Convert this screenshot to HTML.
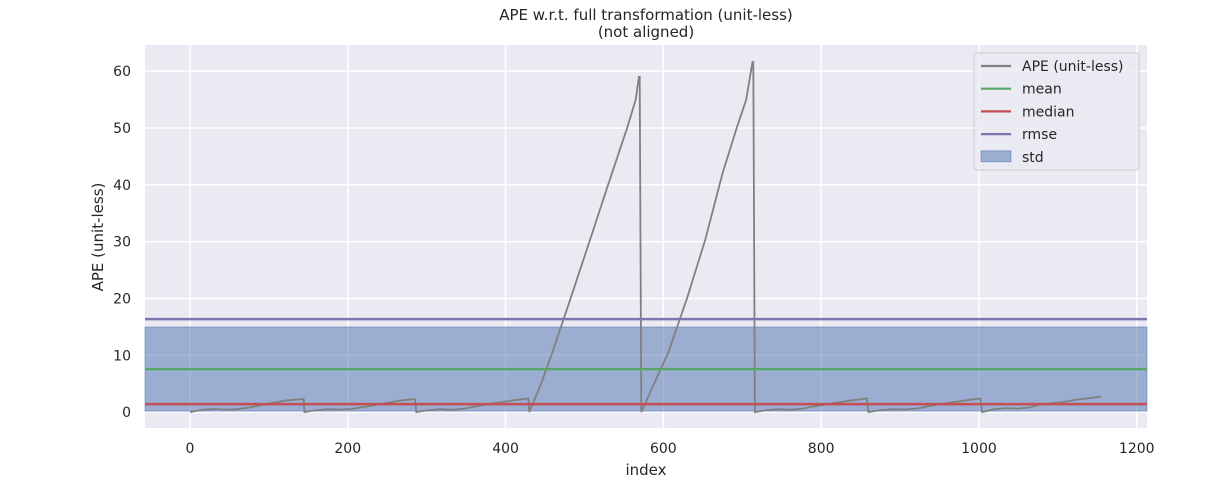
<!DOCTYPE html>
<html><head><meta charset="utf-8"><style>
body{margin:0;background:#fff;font-family:"Liberation Sans","DejaVu Sans",sans-serif;}
svg text{font-family:"DejaVu Sans","Liberation Sans",sans-serif;fill:#262626;}
</style></head><body>
<svg id="chart" width="1213" height="483" xmlns="http://www.w3.org/2000/svg"></svg>
<script>
const xTicks=[0,200,400,600,800,1000,1200];
const yTicks=[0,10,20,30,40,50,60];
const seriesX=[0,15,30,45,60,75,100,120,143,144,145,160,175,190,205,220,245,265,284,285,287,302,317,332,347,362,387,407,428,429,430,445,459,480,507,530,554,565,569,570,572,585,606,630,653,675,693,705,713,714,716,731,746,761,776,791,816,836,857,858,860,875,890,905,920,935,960,980,1001,1002,1004,1019,1034,1049,1064,1079,1104,1124,1155];
const seriesY=[0,0.4,0.55,0.45,0.5,0.8,1.5,2.0,2.3,2.3,0,0.35,0.5,0.45,0.55,0.9,1.5,2.0,2.3,2.3,0,0.35,0.5,0.4,0.6,1.0,1.6,2.0,2.4,2.4,0,5,10.4,19,30.3,40,50,55,59,59,0,4,10.4,20,30.3,42,50,55,61.6,61.6,0,0.35,0.5,0.4,0.6,1.0,1.6,2.0,2.4,2.4,0,0.35,0.5,0.45,0.6,1.0,1.6,2.0,2.4,2.4,0,0.5,0.7,0.6,0.8,1.4,1.7,2.2,2.7];
const stats=[7.57,1.41,16.36];
const stdVal=7.4;
const legendLabels=["APE (unit-less)","mean","median","rmse","std"];

const NS="http://www.w3.org/2000/svg";
const svg=document.getElementById('chart');
const L=145,R=1147,T=45,B=428;
const xMin=-57,xMax=1213,yMin=-2.8,yMax=64.6;
const X=v=>L+(v-xMin)/(xMax-xMin)*(R-L);
const Y=v=>B-(v-yMin)/(yMax-yMin)*(B-T);
function mk(tag,attrs,parent){const e=document.createElementNS(NS,tag);for(const k in attrs)e.setAttribute(k,attrs[k]);(parent||svg).appendChild(e);return e;}
let bg=mk('rect',{x:L,y:T,width:R-L,height:B-T,fill:'#eaeaf2'});


xTicks.forEach(t=>{
 let g=mk('line',{x1:X(t),x2:X(t),y1:T,y2:B,stroke:'#fff','stroke-width':1.5});
 
 
 let tx=mk('text',{x:X(t),y:B+25,'text-anchor':'middle','font-size':14});tx.textContent=t;
 
 
});
yTicks.forEach(t=>{
 let g=mk('line',{x1:L,x2:R,y1:Y(t),y2:Y(t),stroke:'#fff','stroke-width':1.5});
 
 
 let tx=mk('text',{x:L-14,y:Y(t)+5,'text-anchor':'end','font-size':14});tx.textContent=t;
 
 
});
let band=mk('rect',{x:L,y:Y(stats[0]+stdVal),width:R-L,height:Y(stats[0]-stdVal)-Y(stats[0]+stdVal),fill:'#4c72b0','fill-opacity':0.5,stroke:'#4c72b0','stroke-opacity':0.5});


let d=seriesX.map((x,i)=>(i?'L':'M')+X(x).toFixed(1)+','+Y(seriesY[i]).toFixed(1)).join(' ');
let ln=mk('path',{d:d,fill:'none',stroke:'#808080','stroke-width':1.8});


const cols=['#55a868','#c44e52','#8172b2'];
const names=['mean-line','median-line','rmse-line'];
stats.forEach((v,i)=>{
 let s=mk('line',{x1:L,x2:R,y1:Y(v),y2:Y(v),stroke:cols[i],'stroke-width':2.5});
 
 
});
// legend
let lg=mk('g',{});


mk('rect',{x:974,y:53,width:165,height:117,rx:3,fill:'#eaeaf2','fill-opacity':0.8,stroke:'#cccccc'},lg);
const lcols=['#808080','#55a868','#c44e52','#8172b2'];
legendLabels.forEach((lab,i)=>{
 const yy=66+i*22.7;
 if(i<4)mk('line',{x1:981,x2:1011,y1:yy,y2:yy,stroke:lcols[i],'stroke-width':2.2},lg);
 else mk('rect',{x:981,y:yy-6,width:30,height:11,fill:'#4c72b0','fill-opacity':0.5,stroke:'#4c72b0','stroke-opacity':0.5},lg);
 let t=mk('text',{x:1022,y:yy+5,'font-size':14},lg);t.textContent=lab;
 
 
});
let t1=mk('text',{x:646,y:20,'text-anchor':'middle','font-size':15});t1.textContent='APE w.r.t. full transformation (unit-less)';


let t2=mk('text',{x:646,y:37,'text-anchor':'middle','font-size':15});t2.textContent='(not aligned)';


let xl=mk('text',{x:646,y:475,'text-anchor':'middle','font-size':15});xl.textContent='index';


let yl=mk('text',{x:103,y:237,'text-anchor':'middle','font-size':15,transform:'rotate(-90 103 237)'});yl.textContent='APE (unit-less)';


</script>
</body></html>
